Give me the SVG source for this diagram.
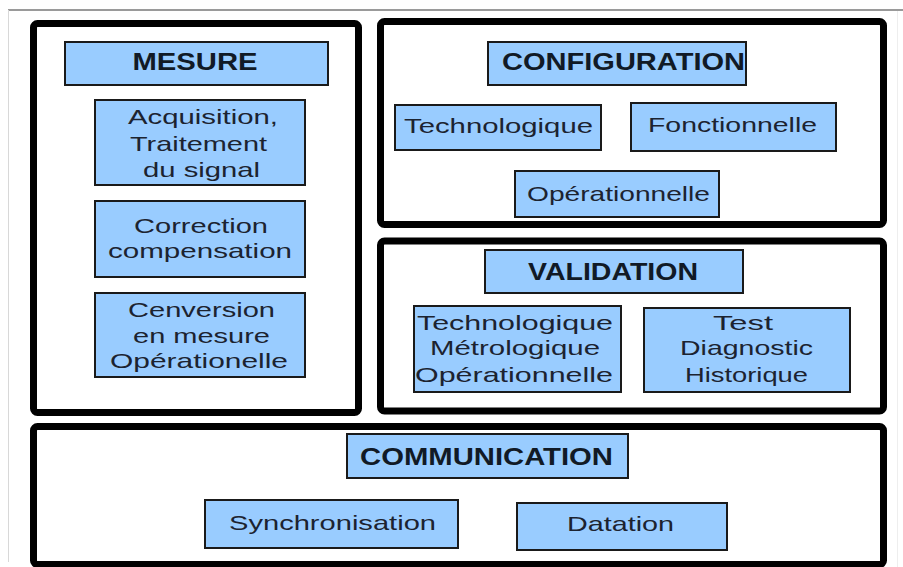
<svg xmlns="http://www.w3.org/2000/svg" width="903" height="567" viewBox="0 0 903 567">
<style>
.frame{fill:none;stroke:#000;stroke-width:7;}
.box{fill:#99ccff;stroke:#1a1a1a;stroke-width:2;}
.t{font-family:"Liberation Sans",Arial,sans-serif;font-size:21px;fill:#1c2330;text-anchor:middle;}
.h{font-family:"Liberation Sans",Arial,sans-serif;font-size:24px;font-weight:bold;fill:#111a26;text-anchor:middle;}
</style>
<rect x="0" y="0" width="903" height="567" fill="#ffffff"/>
<g id="page-frame">
<line x1="8" y1="10" x2="903" y2="10" stroke="#9a9a9a" stroke-width="2"/>
<line x1="8.5" y1="10" x2="8.5" y2="562" stroke="#d8d8d8" stroke-width="1"/>
<line x1="897.5" y1="11" x2="897.5" y2="567" stroke="#eeeeee" stroke-width="1"/>
</g>

<g id="mesure">
<rect class="frame" x="33.5" y="23.5" width="325" height="389" rx="4"/>
<g id="mesure-title"><rect class="box" x="65" y="42" width="263" height="43"/>
<text class="h" x="195" y="70" textLength="125" lengthAdjust="spacingAndGlyphs">MESURE</text></g>
<g id="acquisition"><rect class="box" x="95" y="100" width="210" height="85"/>
<text class="t" x="203" y="124" textLength="150" lengthAdjust="spacingAndGlyphs">Acquisition,</text>
<text class="t" x="198.5" y="151" textLength="137" lengthAdjust="spacingAndGlyphs">Traitement</text>
<text class="t" x="201.5" y="177" textLength="117" lengthAdjust="spacingAndGlyphs">du signal</text></g>
<g id="correction"><rect class="box" x="95" y="201" width="210" height="76"/>
<text class="t" x="201" y="233" textLength="134" lengthAdjust="spacingAndGlyphs">Correction</text>
<text class="t" x="200" y="258" textLength="184" lengthAdjust="spacingAndGlyphs">compensation</text></g>
<g id="conversion"><rect class="box" x="95" y="293" width="210" height="84"/>
<text class="t" x="201.5" y="317" textLength="147" lengthAdjust="spacingAndGlyphs">Cenversion</text>
<text class="t" x="201.5" y="343" textLength="137" lengthAdjust="spacingAndGlyphs">en mesure</text>
<text class="t" x="199" y="368" textLength="178" lengthAdjust="spacingAndGlyphs">Opérationelle</text></g>
</g>

<g id="configuration">
<rect class="frame" x="380.5" y="21.5" width="503" height="203" rx="4"/>
<g id="configuration-title"><rect class="box" x="488" y="42" width="258" height="43"/>
<text class="h" x="623.5" y="70" textLength="243" lengthAdjust="spacingAndGlyphs">CONFIGURATION</text></g>
<g id="config-technologique"><rect class="box" x="395" y="105" width="206" height="45"/>
<text class="t" x="498.5" y="133" textLength="189" lengthAdjust="spacingAndGlyphs">Technologique</text></g>
<g id="config-fonctionnelle"><rect class="box" x="631" y="103" width="205" height="48"/>
<text class="t" x="732.5" y="132" textLength="169" lengthAdjust="spacingAndGlyphs">Fonctionnelle</text></g>
<g id="config-operationnelle"><rect class="box" x="515" y="171" width="204" height="46"/>
<text class="t" x="618.5" y="201" textLength="183" lengthAdjust="spacingAndGlyphs">Opérationnelle</text></g>
</g>

<g id="validation">
<rect class="frame" x="380.5" y="241" width="503" height="170" rx="4"/>
<g id="validation-title"><rect class="box" x="485" y="250" width="258" height="43"/>
<text class="h" x="613" y="280" textLength="170" lengthAdjust="spacingAndGlyphs">VALIDATION</text></g>
<g id="validation-types"><rect class="box" x="414" y="306" width="207" height="86"/>
<text class="t" x="515" y="330" textLength="196" lengthAdjust="spacingAndGlyphs">Technologique</text>
<text class="t" x="515" y="355" textLength="170" lengthAdjust="spacingAndGlyphs">Métrologique</text>
<text class="t" x="514" y="382" textLength="198" lengthAdjust="spacingAndGlyphs">Opérationnelle</text></g>
<g id="validation-tests"><rect class="box" x="644" y="308" width="206" height="84"/>
<text class="t" x="743" y="330" textLength="60" lengthAdjust="spacingAndGlyphs">Test</text>
<text class="t" x="746.5" y="355" textLength="133" lengthAdjust="spacingAndGlyphs">Diagnostic</text>
<text class="t" x="746.5" y="382" textLength="123" lengthAdjust="spacingAndGlyphs">Historique</text></g>
</g>

<g id="communication">
<rect class="frame" x="33.5" y="426.5" width="850" height="138" rx="4"/>
<g id="communication-title"><rect class="box" x="347" y="434" width="281" height="44"/>
<text class="h" x="486.5" y="465" textLength="253" lengthAdjust="spacingAndGlyphs">COMMUNICATION</text></g>
<g id="synchronisation"><rect class="box" x="205" y="500" width="253" height="48"/>
<text class="t" x="332.5" y="530" textLength="207" lengthAdjust="spacingAndGlyphs">Synchronisation</text></g>
<g id="datation"><rect class="box" x="517" y="503" width="210" height="47"/>
<text class="t" x="620.5" y="531" textLength="107" lengthAdjust="spacingAndGlyphs">Datation</text></g>
</g>
</svg>
